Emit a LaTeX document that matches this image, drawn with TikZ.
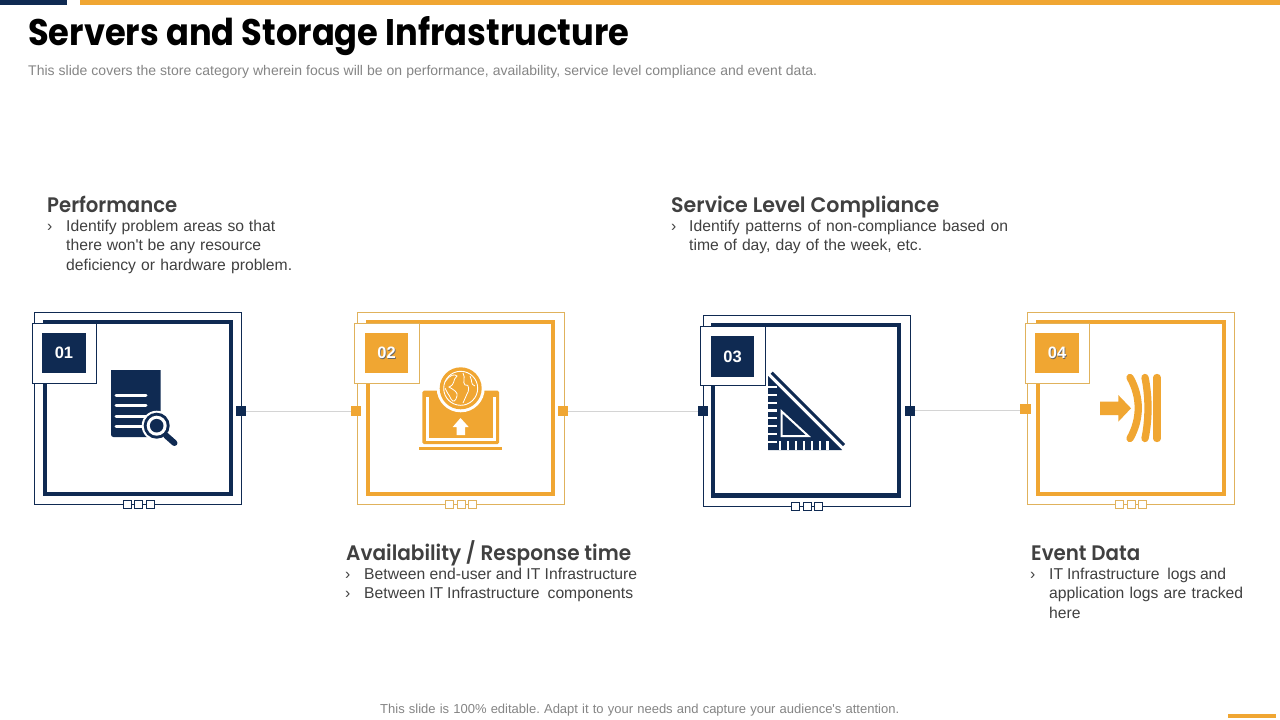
\documentclass[tikz,border=0pt]{standalone}
\usepackage{graphicx}
\usepackage{fontspec}
\setmainfont{Liberation Sans}
\newfontfamily\bodyf{Liberation Sans}
\newfontfamily\headfont{Poppins SemiBold}
\newfontfamily\titlefont{Poppins Bold}
\frenchspacing
\definecolor{navy}{HTML}{0F2A52}
\definecolor{amber}{HTML}{F0A632}
\definecolor{thinamber}{HTML}{E0B25C}
\definecolor{bodygrey}{HTML}{404040}
\definecolor{subgrey}{HTML}{858585}
\definecolor{linkgrey}{HTML}{D4D4D4}
\newcommand{\fit}[2]{\makebox[#1pt][s]{#2}}
\newcommand{\squeeze}[2]{\resizebox{#1pt}{\height}{#2}}
\tikzset{
  x=1pt,y=-1pt,
  outerbox/.style={draw=#1,line width=1pt,fill=white,inner sep=0pt},
  innerbox/.style={draw=#1,line width=4.2pt},
  tabbox/.style={draw=#1,line width=.9pt,fill=white},
  numbox/.style={fill=#1,text=white,inner sep=0pt,font=\bodyf\bfseries\fontsize{16.5}{16.5}\selectfont},
  handle/.style={fill=#1,draw=none,inner sep=0pt},
  minibox/.style={draw=#1,line width=.9pt,fill=white,inner sep=0pt},
  link/.style={draw=linkgrey,line width=1pt},
  heading/.style={anchor=base west,inner sep=0pt,text=bodygrey,font=\headfont\fontsize{21}{22}\selectfont},
  bodyline/.style={anchor=base west,inner sep=0pt,text=bodygrey,font=\bodyf\fontsize{15.7}{19}\selectfont},
  note/.style={anchor=base west,inner sep=0pt,text=subgrey},
}
\newcommand{\rectnode}[6]{\node[#1,minimum width=#5-#3,minimum height=#6-#4,inner sep=0pt,outer sep=0pt] (#2) at ({(#3+#5)/2},{(#4+#6)/2}) {};}
\begin{document}
\begin{tikzpicture}
\useasboundingbox (0,0) rectangle (1280,720);
\fill[white] (0,0) rectangle (1280,720);
% top and bottom bars
\fill[navy] (0,0) rectangle (67,5);
\fill[amber] (80,0) rectangle (1280,5);
\fill[amber] (1228,714) rectangle (1276,718);
% title
\node[anchor=base west,inner sep=0pt,text=black] (title) at (28,45) {\squeeze{601}{\titlefont\fontsize{37}{40}\selectfont Servers and Storage Infrastructure}};
\node[note] (subtitle) at (28,75) {\bodyf\fontsize{14}{16}\selectfont\fit{789}{This slide covers the store category wherein focus will be on performance, availability, service level compliance and event data.}};
\node[note] (footer) at (380,713) {\bodyf\fontsize{13}{16}\selectfont\fit{519}{This slide is 100\% editable. Adapt it to your needs and capture your audience's attention.}};

% CARD 1
\rectnode{outerbox=navy}{oa}{34.5}{312.5}{241}{504}
\rectnode{innerbox=navy}{ia}{45}{322}{231}{494}
\rectnode{tabbox=navy}{ta}{32.5}{323.5}{96.7}{383.5}
\node[numbox=navy,minimum width=44,minimum height=40] (na) at (64,353) {\raisebox{-.7pt}{01}};
% CARD 2
\rectnode{outerbox=thinamber}{ob}{357.5}{312.5}{564.5}{504}
\rectnode{innerbox=amber}{ib}{368}{322}{553}{494}
\rectnode{tabbox=thinamber}{tb}{354.5}{323.5}{419.5}{383.5}
\node[numbox=amber,minimum width=43,minimum height=40] (nb) at (386.5,353) {\raisebox{-.7pt}{\makebox[0pt][l]{\raisebox{-.8pt}{\hspace{.8pt}\textcolor{black!60}{02}}}02}};
% CARD 3
\rectnode{outerbox=navy}{oc}{703.5}{315.5}{910.5}{506}
\rectnode{innerbox=navy}{ic}{713}{325}{899}{495.5}
\rectnode{tabbox=navy}{tc}{700.5}{326}{765.5}{385.5}
\node[numbox=navy,minimum width=43,minimum height=41] (nc) at (732.5,356.5) {\raisebox{-.7pt}{03}};
% CARD 4
\rectnode{outerbox=thinamber}{od}{1027.5}{312.5}{1234.5}{504}
\rectnode{innerbox=amber}{id}{1038}{322}{1224}{494}
\rectnode{tabbox=thinamber}{td}{1025.5}{323.5}{1089.5}{383.5}
\node[numbox=amber,minimum width=44,minimum height=40] (nd) at (1057,353) {\raisebox{-.7pt}{\makebox[0pt][l]{\raisebox{-.8pt}{\hspace{.8pt}\textcolor{black!60}{04}}}04}};

% handles
\node[handle=navy,minimum size=10] (ha) at (241,411) {};
\node[handle=amber,minimum size=10] (hbl) at (356,411) {};
\node[handle=amber,minimum size=10] (hbr) at (563,411) {};
\node[handle=navy,minimum size=10] (hcl) at (703,411) {};
\node[handle=navy,minimum size=10] (hcr) at (910,410.5) {};
\node[handle=amber,minimum size=10.5] (hd) at (1025.5,409) {};
\draw[link] (ha) -- (hbl);
\draw[link] (hbr) -- (hcl);
\draw[link] (hcr.east) -- (hcr.east -| hd.west);

% mini boxes
\foreach \n/\cx/\cy/\col in {a/138.5/504/navy,b/461/504/thinamber,c/807/506.5/navy,d/1131/504/thinamber}{
  \node[minibox=\col,minimum size=8] (m\n1) at (\cx-11.5,\cy) {};
  \node[minibox=\col,minimum size=8] (m\n2) at (\cx,\cy) {};
  \node[minibox=\col,minimum size=8] (m\n3) at (\cx+11.5,\cy) {};
}

% ICON 1 document + magnifier
\fill[navy] (111,370) -- (160.7,370) -- (160.7,437) -- (113.5,437) .. controls (112,437) and (111,436) .. (111,434.5) -- cycle;
\foreach \yy in {395,405.5,416,426.5}{\draw[white,line width=3pt,line cap=round] (116,\yy) -- (146,\yy);}
\fill[white] (156.7,425.7) circle (15);
\fill[navy] (156.7,425.7) circle (13);
\fill[white] (156.7,425.7) circle (10);
\fill[navy] (156.7,425.7) circle (6.8);
\draw[navy,line width=6pt,line cap=round] (166,435.5) -- (174.5,443);

% ICON 2 laptop + globe
\fill[amber,rounded corners=1.5pt] (422.3,390.7) -- (499,390.7) -- (499,444) -- (422.3,444) -- cycle;
\fill[white] (426,396.7) rectangle (495.5,441);
\fill[amber] (428.5,397) rectangle (493,438);
\fill[amber] (419,447) rectangle (502,450);
\fill[white] (460.7,388.3) circle (24);
\fill[amber] (460.7,388.3) circle (21);
\draw[white,line width=.9pt] (460.7,388.3) circle (17);
\draw[white,line width=.8pt] (445,382) .. controls (450,374) and (455,374) .. (457,376) .. controls (452,380) and (456,384) .. (449,387) .. controls (454,390) and (458,392) .. (457,396) .. controls (456,401) and (453,403) .. (451,399) .. controls (449,394) and (446,392) .. (445,388);
\draw[white,line width=.8pt] (463,373) .. controls (466,378) and (462,382) .. (465,385) .. controls (470,383) and (469,392) .. (467,394) .. controls (465,397) and (465,400) .. (463,403);
\draw[white,line width=.8pt] (470,376) .. controls (473,382) and (470,384) .. (475,386);
\fill[white] (460.5,418) -- (468.7,427) -- (465,427) -- (465,435) -- (456.5,435) -- (456.5,427) -- (452.7,427) -- cycle;

% ICON 3 set square
\fill[navy] (768,376) -- (842,450) -- (768,450) -- cycle;
\draw[navy,line width=3pt] (771.7,372.7) -- (844,445);
\foreach \yy in {387.3,395,402.7,410.5,418,426,434,442}{\draw[white,line width=2.2pt] (768,\yy) -- (777,\yy);}
\foreach \xx in {780,788,796,804,812,820,827.5}{\draw[white,line width=2.2pt] (\xx,441) -- (\xx,450);}
\draw[white,line width=2pt,line join=miter] (781.7,411.5) -- (781.7,436) -- (808.3,436) -- cycle;

% ICON 4 arrow + bands
\fill[amber] (1100,401.7) -- (1118.3,401.7) -- (1118.3,395) -- (1131,408.3) -- (1118.3,421.7) -- (1118.3,415) -- (1100,415) -- cycle;
\draw[amber,line width=7.3pt,line cap=round] (1157,377.5) -- (1157,438.5);
\draw[amber,line width=7.3pt,line cap=round] (1145,377.5) .. controls (1149,397) and (1149,419) .. (1145,438.5);
\draw[amber,line width=7.3pt,line cap=round] (1130,377.5) .. controls (1141,397) and (1141,419) .. (1130,438.5);

% TEXTS
\node[heading] (h1) at (47,212) {\squeeze{130}{Performance}};
\node[bodyline] (b1a) at (47,231) {›};
\node[bodyline] (t1a) at (66,231) {\fit{209}{Identify problem areas so that}};
\node[bodyline] (t1b) at (66,250) {\fit{195}{there won't be any resource}};
\node[bodyline] (t1c) at (66,270) {\fit{226}{deficiency or hardware problem.}};

\node[heading] (h2) at (346,560) {\squeeze{285}{Availability / Response time}};
\node[bodyline] (b2a) at (345,579) {›};
\node[bodyline] (t2a) at (364,579) {\fit{273}{Between end-user and IT Infrastructure}};
\node[bodyline] (b2b) at (345,598) {›};
\node[bodyline] (t2b) at (364,598) {\fit{269}{Between IT Infrastructure\ \ components}};

\node[heading] (h3) at (671,212) {\squeeze{268}{Service Level Compliance}};
\node[bodyline] (b3a) at (671,231) {›};
\node[bodyline] (t3a) at (689,231) {\fit{319}{Identify patterns of non-compliance based on}};
\node[bodyline] (t3b) at (689,250) {\fit{233}{time of day, day of the week, etc.}};

\node[heading] (h4) at (1031,560) {\squeeze{109}{Event Data}};
\node[bodyline] (b4a) at (1030,579) {›};
\node[bodyline] (t4a) at (1049,579) {\fit{177}{IT Infrastructure\ \ logs and}};
\node[bodyline] (t4b) at (1049,598) {\fit{194}{application logs are tracked}};
\node[bodyline] (t4c) at (1049,618) {here};
\end{tikzpicture}
\end{document}
